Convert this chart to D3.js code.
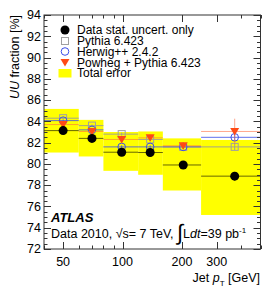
<!DOCTYPE html>
<html><head><meta charset="utf-8">
<script src="https://cdn.jsdelivr.net/npm/d3@7"></script>
<style>
body{margin:0;background:#fff;}
svg{display:block;font-family:"Liberation Sans",Arial,Helvetica,sans-serif;}
</style></head>
<body>
<svg id="c" width="274" height="298"></svg>
<script>
// ---- data ----
const binEdges = [40, 60, 80, 120, 160, 250, 500];
const binX = [50, 70, 99, 138, 203, 370];
const dataVal = [83.13, 82.4, 81.1, 81.07, 79.9, 78.85];
const dataStat = [0.15, 0.15, 0.15, 0.2, 0.25, 0.4];
const totalUp = [85.17, 84.14, 83.0, 83.05, 82.4, 82.25];
const totalDown = [81.07, 80.7, 79.35, 78.98, 77.5, 75.2];
const pythia = [84.3, 83.6, 82.8, 82.3, 81.6, 81.6];
const pythiaErr = [0.1, 0.1, 0.15, 0.15, 0.2, 0.3];
const herwig = [84.07, 83.2, 81.6, 81.6, 81.6, 82.5];
const herwigErr = [0.1, 0.1, 0.15, 0.15, 0.2, 0.3];
const powheg = [83.7, 83.05, 82.3, 82.45, 81.7, 83.05];
const powhegErr = [0.2, 0.2, 0.3, 0.3, 0.3, 1.2];
const yTicks = [72, 74, 76, 78, 80, 82, 84, 86, 88, 90, 92, 94];
const xTickLabels = [50, 100, 200, 300];
const legendLabels = ["Data stat. uncert. only", "Pythia 6.423", "Herwig++ 2.4.2", "Powheg + Pythia 6.423", "Total error"];

const L = 44, R = 260.5, T = 15, B = 249;
const svg = d3.select("#c");
const x = d3.scaleLog().domain([40, 500]).range([L, R]);
const y = d3.scaleLinear().domain([72, 94]).range([B, T]);

const bins = binX.map((v, i) => ({x: v, lo: binEdges[i], hi: binEdges[i + 1], i}));

// total error boxes
svg.append("g").selectAll("rect").data(bins).join("rect")
  .attr("x", d => x(d.lo)).attr("width", d => x(d.hi) - x(d.lo))
  .attr("y", d => y(totalUp[d.i])).attr("height", d => y(totalDown[d.i]) - y(totalUp[d.i]))
  .attr("fill", "#ffff00");

function series(vals, errs, color, opacity, marker) {
  const g = svg.append("g");
  g.selectAll("line.h").data(bins).join("line").attr("class", "h")
    .attr("x1", d => x(d.lo)).attr("x2", d => x(d.hi))
    .attr("y1", d => y(vals[d.i])).attr("y2", d => y(vals[d.i]))
    .attr("stroke", color).attr("stroke-opacity", opacity).attr("stroke-width", 1);
  g.selectAll("line.v").data(bins).join("line").attr("class", "v")
    .attr("x1", d => x(d.x)).attr("x2", d => x(d.x))
    .attr("y1", d => y(vals[d.i] - errs[d.i])).attr("y2", d => y(vals[d.i] + errs[d.i]))
    .attr("stroke", color).attr("stroke-opacity", opacity).attr("stroke-width", 1);
  g.selectAll("g.m").data(bins).join("g").attr("class", "m")
    .attr("transform", d => `translate(${x(d.x)},${y(vals[d.i])})`)
    .each(function () { marker(d3.select(this)); });
}

const mData = s => s.append("circle").attr("r", 4.5).attr("fill", "#000");
const mPythia = s => s.append("rect").attr("x", -3.5).attr("y", -3.5).attr("width", 7).attr("height", 7)
  .attr("fill", "none").attr("stroke", "#a0a0a0").attr("stroke-width", 1);
const mHerwig = s => s.append("circle").attr("r", 3.8).attr("fill", "none").attr("stroke", "#3a4ee8").attr("stroke-width", 1);
const mPowheg = s => s.append("path").attr("d", "M-4.5,-3.5 L4.5,-3.5 L0,4 Z").attr("fill", "#ff4a14");

series(pythia, pythiaErr, "#9a9a9a", 0.9, mPythia);
series(herwig, herwigErr, "#3a4ee8", 0.8, mHerwig);
series(powheg, powhegErr, "#ff6a40", 0.6, mPowheg);
series(dataVal, dataStat, "#000", 0.6, mData);

// frame & ticks
const ax = svg.append("g").attr("stroke", "#333").attr("stroke-width", 1).attr("fill", "none");
ax.append("rect").attr("x", L).attr("y", T).attr("width", R - L).attr("height", B - T);
const yMinor = d3.range(72, 94.01, 0.5);
yMinor.forEach(v => {
  const major = Math.abs(v / 2 - Math.round(v / 2)) < 1e-6;
  const len = major ? 7 : 3.5;
  const yy = Math.round(y(v)) + 0.5;
  ax.append("line").attr("x1", L).attr("x2", L + len).attr("y1", yy).attr("y2", yy);
  ax.append("line").attr("x1", R).attr("x2", R - len).attr("y1", yy).attr("y2", yy);
});
const xMinorVals = [40, 50, 60, 70, 80, 90, 100, 200, 300, 400, 500];
xMinorVals.forEach(v => {
  const major = [50, 100, 200, 300].includes(v);
  const len = major ? 7 : 3.5;
  const xx = Math.round(x(v)) + 0.5;
  ax.append("line").attr("x1", xx).attr("x2", xx).attr("y1", B).attr("y2", B - len);
  ax.append("line").attr("x1", xx).attr("x2", xx).attr("y1", T).attr("y2", T + len);
});

// tick labels
svg.append("g").selectAll("text").data(yTicks).join("text")
  .attr("x", 41).attr("y", d => y(d) + 4.3).attr("text-anchor", "end")
  .attr("font-size", 12.5).attr("fill", "#000").text(d => d);
svg.append("g").selectAll("text").data(xTickLabels).join("text")
  .attr("x", d => x(d)).attr("y", 266).attr("text-anchor", "middle")
  .attr("font-size", 12.5).attr("fill", "#000").text(d => d);

// axis titles
const yt = svg.append("text").attr("transform", "translate(19,15) rotate(-90)")
  .attr("text-anchor", "end").attr("font-size", 12.5);
yt.append("tspan").attr("font-style", "italic").text("UU");
yt.append("tspan").text(" fraction [%]");
const xt = svg.append("text").attr("x", 260).attr("y", 282).attr("text-anchor", "end").attr("font-size", 12.5);
xt.append("tspan").text("Jet ");
xt.append("tspan").attr("font-style", "italic").text("p");
xt.append("tspan").attr("font-size", 8).attr("dy", 4).text("T");
xt.append("tspan").attr("dy", -4).text(" [GeV]");

// legend
const lg = svg.append("g");
const rowsY = [30, 41, 51.5, 62.5, 73];
const mk = [mData, mPythia, mHerwig, mPowheg];
mk.forEach((m, i) => { const g = lg.append("g").attr("transform", `translate(65,${rowsY[i]})`); m(g); });
lg.append("rect").attr("x", 58.5).attr("y", rowsY[4] - 4).attr("width", 13).attr("height", 8.5).attr("fill", "#ffff00");
lg.selectAll("text").data(legendLabels).join("text")
  .attr("x", 77).attr("y", (d, i) => rowsY[i] + 4).attr("font-size", 12).text(d => d);

// ATLAS label
svg.append("text").attr("x", 51).attr("y", 222).attr("font-size", 13).attr("font-weight", "bold")
  .attr("font-style", "italic").text("ATLAS");
const info = svg.append("text").attr("x", 51).attr("y", 237.5).attr("font-size", 12.5);
info.append("tspan").text("Data 2010, \u221As= 7 TeV, ");
info.append("tspan").attr("font-size", 22).attr("dy", 2).text("\u222B");
info.append("tspan").attr("dy", -2).text("L");
info.append("tspan").attr("font-style", "italic").text("dt");
info.append("tspan").text("=39 pb");
info.append("tspan").attr("font-size", 8).attr("dy", -5).text("-1");
</script>
</body></html>
